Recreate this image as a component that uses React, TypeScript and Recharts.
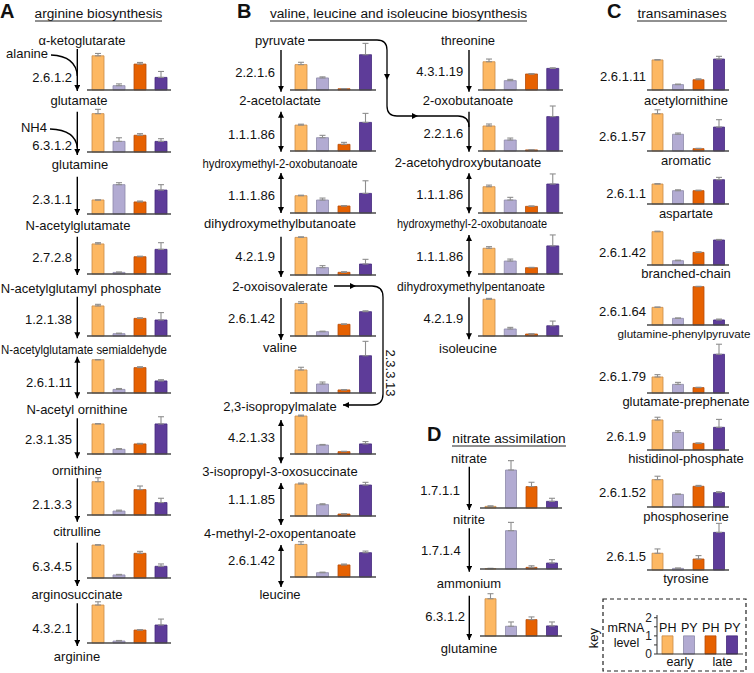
import React from 'react';
import { BarChart, Bar, XAxis, YAxis, Cell, ErrorBar, ReferenceLine } from 'recharts';

// ---------------- DATA ----------------
const CONDITIONS = ['PH early', 'PY early', 'PH late', 'PY late'];
const KEY_LABELS = ['PH', 'PY', 'PH', 'PY'];
const KEY_GROUPS = ['early', 'late'];
const KEY_VALUES = [1, 1, 1, 1];
const KEY_TICKS = [0, 0.5, 1, 1.5, 2];

// Panel A: arginine biosynthesis
const ecA = ['2.6.1.2', '6.3.1.2', '2.3.1.1', '2.7.2.8', '1.2.1.38', '2.6.1.11', '2.3.1.35', '2.1.3.3', '6.3.4.5', '4.3.2.1'];
const compoundsA = ['α-ketoglutarate', 'glutamate', 'glutamine', 'N-acetylglutamate', 'N-acetylglutamyl phosphate',
  'N-acetylglutamate semialdehyde', 'N-acetyl ornithine', 'ornithine', 'citrulline', 'arginosuccinate', 'arginine'];
const valsA = [
  [1.90, 0.24, 1.44, 0.70],
  [2.13, 0.59, 0.93, 0.59],
  [0.78, 1.63, 0.67, 1.33],
  [1.67, 0.09, 0.96, 1.37],
  [1.67, 0.13, 0.98, 0.89],
  [1.85, 0.20, 1.41, 0.67],
  [1.67, 0.26, 0.56, 1.67],
  [1.85, 0.22, 1.41, 0.69],
  [1.83, 0.17, 1.37, 0.65],
  [2.11, 0.11, 0.72, 1.00],
];
const errA = [
  [0.13, 0.10, 0.09, 0.33],
  [0.24, 0.20, 0.09, 0.15],
  [0.00, 0.11, 0.05, 0.30],
  [0.07, 0.02, 0.03, 0.37],
  [0.09, 0.03, 0.03, 0.41],
  [0.00, 0.05, 0.05, 0.07],
  [0.02, 0.04, 0.03, 0.40],
  [0.22, 0.05, 0.20, 0.24],
  [0.02, 0.03, 0.11, 0.13],
  [0.18, 0.03, 0.02, 0.33],
];

// Panel B, valine / leucine column
const ecBL = ['2.2.1.6', '1.1.1.86', '1.1.1.86', '4.2.1.9', '2.6.1.42', '2.3.3.13', '4.2.1.33', '1.1.1.85', '2.6.1.42'];
const compoundsBL = ['pyruvate', '2-acetolactate', 'hydroxymethyl-2-oxobutanoate', 'dihydroxymethylbutanoate', '2-oxoisovalerate',
  'valine', '2,3-isopropylmalate', '3-isopropyl-3-oxosuccinate', '4-methyl-2-oxopentanoate', 'leucine'];
const valsBL = [
  [1.41, 0.67, 0.07, 1.96],
  [1.44, 0.74, 0.37, 1.59],
  [0.96, 0.72, 0.39, 1.09],
  [2.09, 0.41, 0.15, 0.61],
  [1.81, 0.24, 0.65, 1.35],
  [1.28, 0.50, 0.17, 2.07],
  [2.11, 0.50, 0.13, 0.56],
  [1.78, 0.63, 0.11, 1.72],
  [1.81, 0.24, 0.67, 1.35],
];
const errBL = [
  [0.13, 0.06, 0.01, 0.63],
  [0.05, 0.13, 0.11, 0.50],
  [0.03, 0.11, 0.02, 0.70],
  [0.03, 0.11, 0.03, 0.26],
  [0.09, 0.03, 0.02, 0.05],
  [0.15, 0.11, 0.02, 0.80],
  [0.05, 0.03, 0.02, 0.13],
  [0.05, 0.05, 0.02, 0.15],
  [0.15, 0.03, 0.05, 0.09],
];

// Panel B, isoleucine column
const ecBR = ['4.3.1.19', '2.2.1.6', '1.1.1.86', '1.1.1.86', '4.2.1.9'];
const compoundsBR = ['threonine', '2-oxobutanoate', '2-acetohydroxybutanoate', 'hydroxymethyl-2-oxobutanoate',
  'dihydroxymethylpentanoate', 'isoleucine'];
const valsBR = [
  [1.57, 0.52, 0.89, 1.20],
  [1.39, 0.61, 0.06, 1.91],
  [1.46, 0.72, 0.37, 1.61],
  [1.43, 0.72, 0.35, 1.56],
  [2.04, 0.39, 0.11, 0.57],
];
const errBR = [
  [0.15, 0.07, 0.01, 0.03],
  [0.11, 0.11, 0.01, 0.59],
  [0.09, 0.15, 0.02, 0.56],
  [0.09, 0.11, 0.02, 0.61],
  [0.05, 0.09, 0.01, 0.26],
];

// Panel C: transaminases
const ecC = ['2.6.1.11', '2.6.1.57', '2.6.1.1', '2.6.1.42', '2.6.1.64', '2.6.1.79', '2.6.1.9', '2.6.1.52', '2.6.1.5'];
const namesC = ['acetylornithine', 'aromatic', 'aspartate', 'branched-chain', 'glutamine-phenylpyruvate',
  'glutamate-prephenate', 'histidinol-phosphate', 'phosphoserine', 'tyrosine'];
const valsC = [
  [1.67, 0.30, 0.57, 1.72],
  [2.07, 0.93, 0.13, 1.33],
  [1.11, 0.74, 0.74, 1.35],
  [1.85, 0.24, 0.70, 1.39],
  [0.98, 0.37, 2.13, 0.28],
  [0.89, 0.48, 0.30, 2.15],
  [1.67, 0.98, 0.37, 1.26],
  [1.52, 0.70, 1.15, 0.80],
  [0.93, 0.09, 0.61, 2.09],
];
const errC = [
  [0.02, 0.03, 0.05, 0.15],
  [0.22, 0.07, 0.02, 0.41],
  [0.02, 0.05, 0.03, 0.13],
  [0.03, 0.03, 0.03, 0.03],
  [0.02, 0.02, 0.02, 0.05],
  [0.13, 0.11, 0.02, 0.56],
  [0.15, 0.09, 0.02, 0.44],
  [0.19, 0.02, 0.05, 0.05],
  [0.24, 0.02, 0.19, 0.50],
];

// Panel D: nitrate assimilation
const ecD = ['1.7.1.1', '1.7.1.4', '6.3.1.2'];
const compoundsD = ['nitrate', 'nitrite', 'ammonium', 'glutamine'];
const valsD = [
  [0.09, 2.11, 1.19, 0.37],
  [0.02, 2.13, 0.09, 0.33],
  [2.07, 0.54, 0.91, 0.56],
];
const errD = [
  [0.03, 0.52, 0.24, 0.17],
  [0.02, 0.46, 0.09, 0.19],
  [0.28, 0.24, 0.15, 0.22],
];

// ---------------- STYLE / LAYOUT ----------------
const FILLS = ['#fdb863', '#b2abd2', '#e66101', '#5e3c99'];
const STROKES = ['#c98a48', '#8d89a8', '#b54d0a', '#442a7c'];
const FONT = '"Liberation Sans", Arial, Helvetica, sans-serif';
const PX = 18; // pixels per unit
const DMAX = 3;

const layA = { left: 87, width: 84, bases: [89.5, 151.5, 213.5, 274, 336, 392.5, 454, 514.5, 577.5, 642.5] };
const layBL = { left: 289.5, width: 86, bases: [89.5, 151, 212.5, 275, 336, 392.5, 454, 515.5, 577] };
const layBR = { left: 478, width: 85, bases: [89.5, 151, 212.5, 274, 336] };
const layC = { left: 647, width: 82, bases: [89.5, 150.5, 203.5, 265, 324.5, 392.5, 450, 506.5, 569.5] };
const layD = { left: 480, width: 82, bases: [507.5, 568.5, 635.5] };

function Mini({ vals, errs, left, base, width, barSize }: any) {
  const plotH = PX * DMAX;
  const mb = 2;
  const data = CONDITIONS.map((c, i) => ({ c, v: vals[i], e: [0, errs[i]] }));
  return (
    <div style={{ position: 'absolute', left, top: base - plotH, width, height: plotH + mb }}>
      <BarChart width={width} height={plotH + mb} data={data}
        margin={{ top: 0, right: 0, bottom: mb, left: 0 }} barCategoryGap={0}>
        <XAxis dataKey="c" hide />
        <YAxis hide domain={[0, DMAX]} />
        <Bar dataKey="v" barSize={barSize} isAnimationActive={false}>
          {data.map((d, i) => (
            <Cell key={i} fill={FILLS[i]} stroke={STROKES[i]} strokeWidth={0.8} />
          ))}
          <ErrorBar dataKey="e" width={3} stroke="#8e8e8e" strokeWidth={1.1} direction="y" />
        </Bar>
        <ReferenceLine y={0} stroke="#4a4a4a" strokeWidth={1.3} />
      </BarChart>
    </div>
  );
}

function KeyChart() {
  const data = KEY_LABELS.map((c, i) => ({ c: c + i, v: KEY_VALUES[i] }));
  const plotH = 39;
  const mt = 8, mb = 9;
  const base = 654;
  return (
    <div style={{ position: 'absolute', left: 637, top: base - plotH - mt, width: 106, height: plotH + mt + mb }}>
      <BarChart width={106} height={plotH + mt + mb} data={data}
        margin={{ top: mt, right: 0, bottom: mb, left: 0 }} barCategoryGap={0}>
        <XAxis dataKey="c" hide />
        <YAxis domain={[0, 2.15]} ticks={KEY_TICKS} width={20} interval={0}
          tickFormatter={(v: number) => (v % 1 === 0 ? String(v) : '')}
          tick={{ fontSize: 12, fill: '#222', fontFamily: FONT }} tickSize={3}
          axisLine={{ stroke: '#333' }} tickLine={{ stroke: '#333' }} />
        <Bar dataKey="v" barSize={11} isAnimationActive={false}>
          {data.map((d, i) => (
            <Cell key={i} fill={FILLS[i]} stroke={STROKES[i]} strokeWidth={0.8} />
          ))}
        </Bar>
        <ReferenceLine y={0} stroke="#333" strokeWidth={1.2} />
      </BarChart>
    </div>
  );
}

function T({ x, y, children, anchor = 'middle', size = 13, len, weight, transform }: any) {
  return (
    <text x={x} y={y} textAnchor={anchor} dominantBaseline="central" fontSize={size}
      fontFamily={FONT} fill="#111" fontWeight={weight}
      textLength={len} lengthAdjust={len ? 'spacingAndGlyphs' : undefined} transform={transform}>
      {children}
    </text>
  );
}

function Arr({ x, y1, y2, both }: any) {
  return (
    <line x1={x} y1={y1} x2={x} y2={y2} stroke="#000" strokeWidth={1.4}
      markerEnd="url(#ah)" markerStart={both ? 'url(#ah)' : undefined} />
  );
}

// annotation layout
const A_cx = [82, 79, 80, 78, 81, 84, 77, 77, 77, 77, 77];
const A_cy = [40, 100.7, 164, 225, 288.3, 349.3, 409.3, 470, 531.7, 594, 656];
const A_len: any = { 5: 166 };
const A_ecy = [77, 145, 199, 257.3, 319.3, 382.3, 439.3, 504, 566, 628.3];
const A_arr = [[49, 91], [111.7, 155], [176.7, 215], [236.7, 275], [296.7, 338.3], [356.7, 398.3, 1], [418.3, 458.3], [478.3, 521.7], [542.7, 586], [603.3, 646]];

const BL_cy = [40, 100.7, 163, 223, 286, 347.7, 406, 471.7, 533.3, 594.3];
const BL_len: any = { 2: 155 };
const BL_ecy = [72.7, 134.3, 195, 256.7, 318.3, null, 437.3, 499.3, 560.7];
const BL_arr: any[] = [[50, 91.7], [111.7, 151.7, 1], [173, 213, 1], [236.7, 277], [298, 340], null, [420, 463.3, 1], [483, 525, 1], [545, 587, 1]];

const BR_cx = [468, 468, 468, 472, 471, 468];
const BR_cy = [40, 100.7, 162.7, 223.3, 286.7, 348.3];
const BR_len: any = { 3: 150, 4: 148 };
const BR_ecy = [71.7, 133.3, 194, 256.7, 318.3];
const BR_arr = [[50, 91.7], [111.7, 151.7], [173.3, 213.3, 1], [235, 276.7, 1], [297.3, 339.3]];

const D_cy = [458, 519.3, 583.3, 648.3];
const D_ecy = [490, 550.7, 616.7];
const D_ecx = [460, 460.7, 465];
const D_arr = [[466.7, 510], [528.3, 571.7], [595.7, 640]];

const C_ecy = [76, 136, 193.3, 252.7, 311.7, 376.7, 436.7, 492.3, 556.7];
const C_nx = [686, 686, 686, 686, 684, 686, 686, 686, 686];
const C_ny = [100, 160, 213.3, 273.3, 333.3, 401.7, 458.3, 516, 578.3];
const C_size = [13, 13, 13, 13, 11.6, 13, 13, 13, 13];

const KEY_CX = [667.75, 689.25, 710.75, 732.25];

function Overlay() {
  return (
    <svg width={754} height={673} style={{ position: 'absolute', left: 0, top: 0, pointerEvents: 'none' }}>
      <defs>
        <marker id="ah" markerUnits="userSpaceOnUse" markerWidth={8} markerHeight={8} refX={6} refY={3}
          orient="auto-start-reverse">
          <path d="M0,0 L6,3 L0,6 Z" fill="#000" />
        </marker>
      </defs>

      {/* panel letters & titles */}
      <T x={0} y={11} anchor="start" size={20} weight="bold">A</T>
      <T x={237} y={11} anchor="start" size={20} weight="bold">B</T>
      <T x={607} y={11} anchor="start" size={20} weight="bold">C</T>
      <T x={427} y={434} anchor="start" size={20} weight="bold">D</T>
      <T x={98.5} y={13} size={13.7}>arginine biosynthesis</T>
      <line x1={35} x2={162} y1={21} y2={21} stroke="#222" strokeWidth={1} />
      <T x={398.5} y={13} size={13.7}>valine, leucine and isoleucine biosynthesis</T>
      <line x1={270} x2={527} y1={21} y2={21} stroke="#222" strokeWidth={1} />
      <T x={682} y={13} size={13.7}>transaminases</T>
      <line x1={637} x2={727} y1={21} y2={21} stroke="#222" strokeWidth={1} />
      <T x={509} y={438} size={13.7}>nitrate assimilation</T>
      <line x1={452} x2={566} y1={446} y2={446} stroke="#222" strokeWidth={1} />

      {/* Panel A */}
      {compoundsA.map((c, i) => <T key={'ac' + i} x={A_cx[i]} y={A_cy[i]} len={A_len[i]}>{c}</T>)}
      {ecA.map((c, i) => <T key={'ae' + i} x={72} y={A_ecy[i]} anchor="end">{c}</T>)}
      {A_arr.map((a, i) => <Arr key={'aa' + i} x={77.3} y1={a[0]} y2={a[1]} both={a[2]} />)}
      <T x={48} y={53.3} anchor="end">alanine</T>
      <path d="M51,55 Q76,56 77.3,76" fill="none" stroke="#000" strokeWidth={1.3} />
      <T x={47} y={127.7} anchor="end">NH4</T>
      <path d="M50,129 Q76,130 77.3,148" fill="none" stroke="#000" strokeWidth={1.3} />

      {/* Panel B left */}
      {compoundsBL.map((c, i) => <T key={'blc' + i} x={280} y={BL_cy[i]} len={BL_len[i]}>{c}</T>)}
      {ecBL.map((c, i) => BL_ecy[i] == null ? null : <T key={'ble' + i} x={275} y={BL_ecy[i]} anchor="end">{c}</T>)}
      {BL_arr.map((a, i) => a ? <Arr key={'bla' + i} x={281} y1={a[0]} y2={a[1]} both={a[2]} /> : null)}
      {/* 2.3.3.13 loop */}
      <path d="M334,286 H372 Q383,286 383,297 V394 Q383,405 372,405 H343" fill="none" stroke="#000" strokeWidth={1.3}
        markerEnd="url(#ah)" />
      <path d="M350,283 L356,286 L350,289 Z" fill="#000" />
      <T x={390} y={373} transform="rotate(90 390 373)">{ecBL[5]}</T>

      {/* pyruvate route into isoleucine column */}
      <path d="M308,40 H377 Q387,40 387,50 V106 Q387,116 397,116 H458 Q469,116 469,127" fill="none" stroke="#000" strokeWidth={1.3} />
      <path d="M384,74 L387,80 L390,74 Z" fill="#000" />
      <path d="M412,113 L418,116 L412,119 Z" fill="#000" />

      {/* Panel B right */}
      {compoundsBR.map((c, i) => <T key={'brc' + i} x={BR_cx[i]} y={BR_cy[i]} len={BR_len[i]}>{c}</T>)}
      {ecBR.map((c, i) => <T key={'bre' + i} x={463.3} y={BR_ecy[i]} anchor="end">{c}</T>)}
      {BR_arr.map((a, i) => <Arr key={'bra' + i} x={469} y1={a[0]} y2={a[1]} both={a[2]} />)}

      {/* Panel D */}
      {compoundsD.map((c, i) => <T key={'dc' + i} x={469} y={D_cy[i]}>{c}</T>)}
      {ecD.map((c, i) => <T key={'de' + i} x={D_ecx[i]} y={D_ecy[i]} anchor="end">{c}</T>)}
      {D_arr.map((a, i) => <Arr key={'da' + i} x={469.3} y1={a[0]} y2={a[1]} />)}

      {/* Panel C */}
      {ecC.map((c, i) => <T key={'ce' + i} x={646} y={C_ecy[i]} anchor="end">{c}</T>)}
      {namesC.map((c, i) => <T key={'cn' + i} x={C_nx[i]} y={C_ny[i]} size={C_size[i]}>{c}</T>)}

      {/* key */}
      <rect x={603} y={599} width={143} height={72} fill="none" stroke="#222" strokeWidth={1.2} strokeDasharray="4 3" />
      <T x={593} y={638} size={13} transform="rotate(-90 593 638)">key</T>
      <T x={626} y={627.7} size={12.5}>mRNA</T>
      <T x={626.5} y={642.7} size={12.5}>level</T>
      {KEY_LABELS.map((c, i) => <T key={'kl' + i} x={KEY_CX[i]} y={627.7} size={12.5}>{c}</T>)}
      <T x={680} y={661.7} size={12.5}>{KEY_GROUPS[0]}</T>
      <T x={722.5} y={661.7} size={12.5}>{KEY_GROUPS[1]}</T>
    </svg>
  );
}

export default function App() {
  return (
    <div style={{ position: 'absolute', left: 0, top: 0, width: 754, height: 673, background: '#fff', overflow: 'hidden' }}>
      {valsA.map((v, i) => <Mini key={'A' + i} vals={v} errs={errA[i]} left={layA.left} width={layA.width} base={layA.bases[i]} barSize={12} />)}
      {valsBL.map((v, i) => <Mini key={'BL' + i} vals={v} errs={errBL[i]} left={layBL.left} width={layBL.width} base={layBL.bases[i]} barSize={12} />)}
      {valsBR.map((v, i) => <Mini key={'BR' + i} vals={v} errs={errBR[i]} left={layBR.left} width={layBR.width} base={layBR.bases[i]} barSize={12} />)}
      {valsC.map((v, i) => <Mini key={'C' + i} vals={v} errs={errC[i]} left={layC.left} width={layC.width} base={layC.bases[i]} barSize={11} />)}
      {valsD.map((v, i) => <Mini key={'D' + i} vals={v} errs={errD[i]} left={layD.left} width={layD.width} base={layD.bases[i]} barSize={11} />)}
      <KeyChart />
      <Overlay />
    </div>
  );
}
